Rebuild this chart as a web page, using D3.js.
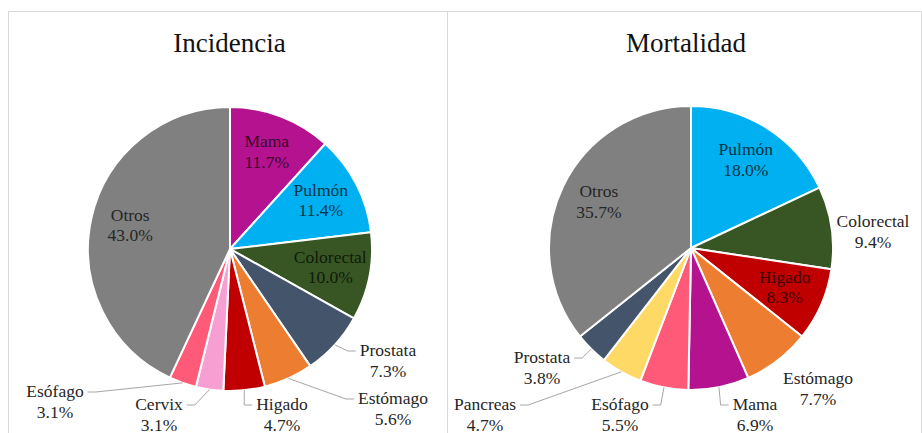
<!DOCTYPE html>
<html>
<head>
<meta charset="utf-8">
<script src="https://cdn.jsdelivr.net/npm/d3@7"></script>
<style>
  html, body { margin: 0; padding: 0; background: #ffffff; }
  svg { display: block; }
</style>
</head>
<body>
<svg id="chart" width="922" height="433"></svg>
<script>
// ---- Data ----
const incidenciaCategories = ["Mama", "Pulmón", "Colorectal", "Prostata", "Estómago", "Higado", "Cervix", "Esófago", "Otros"];
const incidenciaValues     = [11.7, 11.4, 10.0, 7.3, 5.6, 4.7, 3.1, 3.1, 43.0];

const mortalidadCategories = ["Pulmón", "Colorectal", "Higado", "Estómago", "Mama", "Esófago", "Pancreas", "Prostata", "Otros"];
const mortalidadValues     = [18.0, 9.4, 8.3, 7.7, 6.9, 5.5, 4.7, 3.8, 35.7];

const chartTitles = ["Incidencia", "Mortalidad"];

// ---- Styles ----
const categoryColors = {
  "Mama": "#B5128F",
  "Pulmón": "#00B0F0",
  "Colorectal": "#375623",
  "Prostata": "#44546A",
  "Estómago": "#ED7D31",
  "Higado": "#C00000",
  "Cervix": "#F79FD2",
  "Esófago": "#FF5B79",
  "Pancreas": "#FFD966",
  "Otros": "#808080"
};

// ---- Layout (label placement relative to pie centre; inside labels use the arc centroid) ----
const incidenciaLabelLayout = {
  "Mama": {inside: true}, "Pulmón": {inside: true}, "Colorectal": {inside: true}, "Otros": {inside: true},
  "Prostata": {dx: 158, dy: 101, leader: true},
  "Estómago": {dx: 163, dy: 149, leader: true},
  "Higado":   {dx: 52,  dy: 155, leader: true},
  "Cervix":   {dx: -71, dy: 155, leader: true},
  "Esófago":  {dx: -175, dy: 142, leader: true}
};
const mortalidadLabelLayout = {
  "Pulmón": {inside: true}, "Higado": {inside: true}, "Otros": {inside: true},
  "Colorectal": {dx: 182, dy: -27, leader: false},
  "Estómago":   {dx: 127, dy: 130, leader: false},
  "Mama":       {dx: 64,  dy: 156, leader: true},
  "Esófago":    {dx: -71, dy: 156, leader: true},
  "Pancreas":   {dx: -206, dy: 156, leader: true},
  "Prostata":   {dx: -149, dy: 109, leader: true}
};

const panels = [
  {title: chartTitles[0], cats: incidenciaCategories, vals: incidenciaValues, layout: incidenciaLabelLayout, x0: 8, x1: 447, cx: 230, cy: 249},
  {title: chartTitles[1], cats: mortalidadCategories, vals: mortalidadValues, layout: mortalidadLabelLayout, x0: 447, x1: 921, cx: 691, cy: 248}
];

const R = 142;
const labelFont = 17.5;
const lineGap = 20.5;
const FONT = "Liberation Serif";

const svg = d3.select("#chart");

panels.forEach(p => {
  // panel border
  svg.append("path")
    .attr("d", `M${p.x0 + 0.5},440 V${11.5} H${p.x1 + 0.5} V440`)
    .attr("fill", "none")
    .attr("stroke", "#d9d9d9")
    .attr("stroke-width", 1);

  // title
  svg.append("text")
    .attr("x", (p.x0 + p.x1) / 2 + 2)
    .attr("y", 52)
    .attr("text-anchor", "middle")
    .attr("font-family", FONT)
    .attr("font-size", 27)
    .attr("fill", "#111111")
    .text(p.title);

  const data = p.cats.map((c, i) => ({cat: c, value: p.vals[i]}));
  const pie = d3.pie().sort(null).value(d => d.value);
  const arcs = pie(data);
  const arc = d3.arc().innerRadius(0).outerRadius(R);
  const labelArc = d3.arc().innerRadius(R * 0.72).outerRadius(R * 0.72);

  const g = svg.append("g").attr("transform", `translate(${p.cx},${p.cy})`);

  g.selectAll("path.slice")
    .data(arcs)
    .join("path")
    .attr("class", "slice")
    .attr("d", arc)
    .attr("fill", d => categoryColors[d.data.cat])
    .attr("stroke", "#ffffff")
    .attr("stroke-width", 2)
    .attr("stroke-linejoin", "round");

  arcs.forEach(a => {
    const lay = p.layout[a.data.cat];
    const pct = a.data.value.toFixed(1) + "%";
    if (lay.inside) {
      const [lx, ly] = labelArc.centroid(a);
      const col = d3.interpolateRgb(categoryColors[a.data.cat], "#000000")(0.7);
      const t = g.append("text")
        .attr("text-anchor", "middle")
        .attr("font-family", FONT)
        .attr("font-size", labelFont)
        .attr("fill", col);
      t.append("tspan").attr("x", lx).attr("y", ly - lineGap / 2 + 4).text(a.data.cat);
      t.append("tspan").attr("x", lx).attr("y", ly + lineGap / 2 + 4).text(pct);
    } else {
      const t = g.append("text")
        .attr("text-anchor", "middle")
        .attr("font-family", FONT)
        .attr("font-size", labelFont)
        .attr("fill", "#262626");
      const t1 = t.append("tspan").attr("x", lay.dx).attr("y", lay.dy + 6).text(a.data.cat);
      t.append("tspan").attr("x", lay.dx).attr("y", lay.dy + lineGap + 6).text(pct);
      if (lay.leader) {
        const w = t1.node().getComputedTextLength();
        const mid = (a.startAngle + a.endAngle) / 2;
        const sx = Math.sin(mid) * R;
        const sy = -Math.cos(mid) * R;
        const rightSide = lay.dx > sx;
        const ex = rightSide ? lay.dx - w / 2 - 4 : lay.dx + w / 2 + 4;
        const ey = lay.dy + 1;
        const elx = rightSide ? ex - 8 : ex + 8;
        g.insert("path", "text")
          .attr("d", d3.line()([[sx, sy], [elx, ey], [ex, ey]]))
          .attr("fill", "none")
          .attr("stroke", "#a6a6a6")
          .attr("stroke-width", 1);
      }
    }
  });
});
</script>
</body>
</html>
